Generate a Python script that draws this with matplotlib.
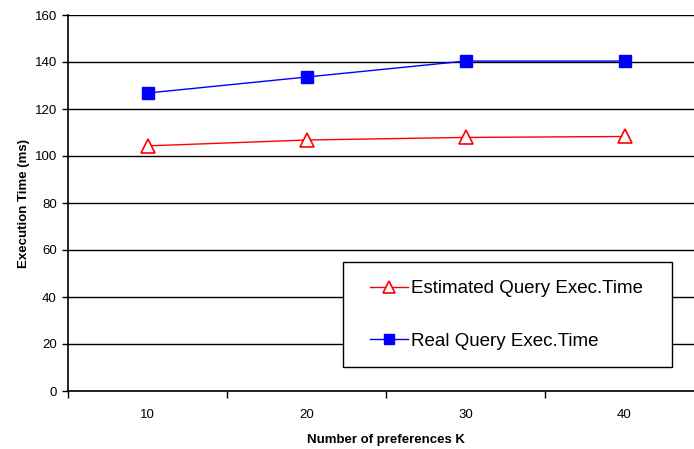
import numpy as np
import matplotlib.pyplot as plt
import matplotlib
from matplotlib.patches import Rectangle

matplotlib.rcParams['font.family'] = ['Liberation Sans', 'DejaVu Sans']

categories = ['10', '20', '30', '40']
estimated = [104.3, 106.8, 107.9, 108.3]
real = [126.8, 133.6, 140.4, 140.4]

fig = plt.figure(figsize=(6.94, 4.49), dpi=100)
W, H = 694, 449
ax = fig.add_axes([68 / W, (H - 391) / H, (704 - 68) / W, (391 - 15) / H])

x = np.arange(1, len(categories) + 1)
ax.plot(x, estimated, color='red', linewidth=1, marker='^', markersize=10,
        markerfacecolor='white', markeredgecolor='red', markeredgewidth=1.2,
        label='Estimated Query Exec.Time', zorder=3)
ax.plot(x, real, color='blue', linewidth=1, marker='s', markersize=9,
        markerfacecolor='blue', markeredgecolor='blue',
        label='Real Query Exec.Time', zorder=3)

ax.set_xlim(0.5, len(categories) + 0.5)
ax.set_ylim(0, 160)
ax.set_yticks(np.arange(0, 161, 20))
ax.yaxis.grid(True, color='black', linewidth=1)
ax.set_axisbelow(True)
ax.tick_params(axis='y', labelsize=9.5, length=4, direction='out', width=1, pad=4)

ax.set_xticks(np.arange(0.5, len(categories) + 1, 1))
ax.set_xticklabels([])
ax.set_xticks(x, minor=True)
ax.set_xticklabels(categories, minor=True)
ax.tick_params(axis='x', which='major', length=5, direction='out', width=1)
ax.tick_params(axis='x', which='minor', length=0, labelsize=9.5, pad=13)

for s in ['top', 'right']:
    ax.spines[s].set_visible(False)
for s in ['left', 'bottom']:
    ax.spines[s].set_linewidth(1.2)

ax.set_xlabel('Number of preferences K', fontsize=9.5, fontweight='bold', labelpad=9)
ax.set_ylabel('Execution Time (ms)', fontsize=9.5, fontweight='bold', labelpad=3)

# legend box drawn separately so the padding matches
box = Rectangle(((343 - 68) / 636, (391 - 367) / 376), 329 / 636, 105 / 376,
                transform=ax.transAxes, facecolor='white', edgecolor='black',
                linewidth=1, zorder=4)
ax.add_patch(box)
leg = ax.legend(loc='center left', bbox_to_anchor=((370 - 68) / 636, (391 - 315) / 376),
                borderaxespad=0, borderpad=0, fontsize=13.5, frameon=False,
                handlelength=2.0, labelspacing=1.87, handletextpad=0.2,
                markerscale=0.85)
leg.set_zorder(5)

fig.savefig('out.png', dpi=100)
